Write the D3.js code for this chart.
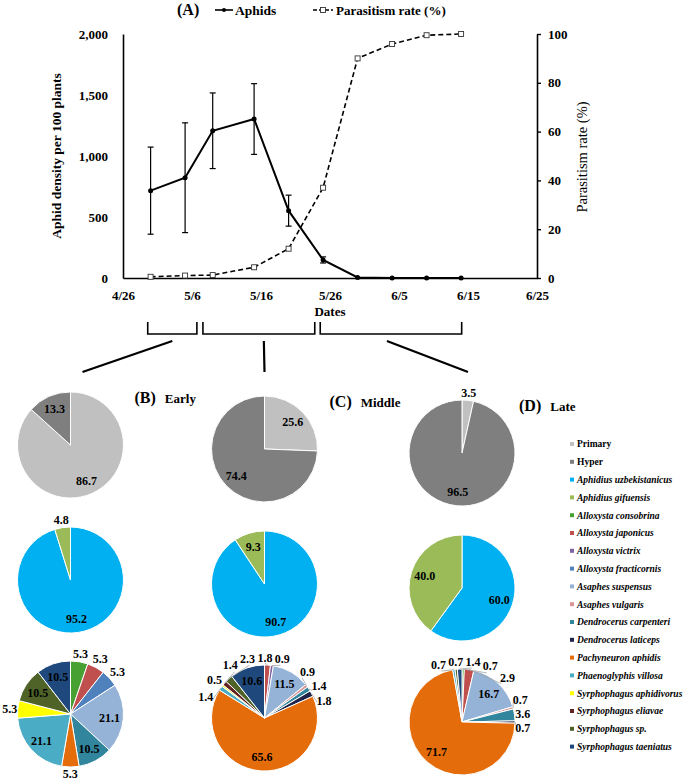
<!DOCTYPE html>
<html>
<head>
<meta charset="utf-8">
<script src="https://cdn.jsdelivr.net/npm/d3@7"></script>
<style>
  body { margin: 0; background: #fff; }
  svg text { font-family: "Liberation Serif", "Times New Roman", serif; font-weight: bold; fill: #000; }
</style>
</head>
<body>
<div id="chart-holder"></div>
<script>
// sampling dates and field counts (panel A)
var sampleDates = ["4/30", "5/5", "5/9", "5/15", "5/20", "5/25", "5/30", "6/4", "6/9", "6/14"];
var aphidDensity = [716, 822, 1207, 1303, 552, 148, 5, 0, 0, 0];
var aphidError = [357, 450, 310, 290, 127, 25, 0, 0, 0, 0];
var parasitismRate = [0.5, 1.0, 1.2, 4.4, 12.0, 37.0, 90.0, 95.9, 99.5, 100];

var dateTicks = ["4/26", "5/6", "5/16", "5/26", "6/5", "6/15", "6/25"];
var densityTicks = [0, 500, 1000, 1500, 2000];
var rateTicks = [0, 20, 40, 60, 80, 100];

// the three periods: start / end date ("m/d h" = plus h hours)
var periodLetters = ["(B)", "(C)", "(D)"];
var periodNames = ["Early", "Middle", "Late"];
var periodStart = ["4/29 14", "5/7 14", "5/24 14"];
var periodEnd = ["5/6 17", "5/23 19", "6/14 2"];

// pie row 1: primary vs hyper parasitoids (%)
var groupNames = ["Primary", "Hyper"];
var groupEarly = [86.7, 13.3];
var groupMiddle = [25.6, 74.4];
var groupLate = [3.5, 96.5];

// pie row 2: primary parasitoid species (%)
var primaryNames = ["Aphidius uzbekistanicus", "Aphidius gifuensis"];
var primaryEarly = [95.2, 4.8];
var primaryMiddle = [90.7, 9.3];
var primaryLate = [60.0, 40.0];

// pie row 3: hyperparasitoid species (%)
var hyperNames = ["Alloxysta consobrina", "Alloxysta japonicus", "Alloxysta victrix",
  "Alloxysta fracticornis", "Asaphes suspensus", "Asaphes vulgaris", "Dendrocerus carpenteri",
  "Dendrocerus laticeps", "Pachyneuron aphidis", "Phaenoglyphis villosa",
  "Syrphophagus aphidivorus", "Syrphophagus eliavae", "Syrphophagus sp.", "Syrphophagus taeniatus"];
var hyperEarly = [5.3, 5.3, 0, 5.3, 21.1, 0, 10.5, 0, 5.3, 21.1, 5.3, 0, 10.5, 10.5];
var hyperMiddle = [0, 1.8, 0.9, 0, 11.5, 0.9, 1.4, 1.8, 65.6, 1.4, 0.5, 1.4, 2.3, 10.6];
var hyperLate = [0.7, 2.9, 0, 0, 16.7, 0.7, 3.6, 0.7, 71.7, 0.7, 0, 0, 0.7, 1.4];

// colours
var groupColors = ["#c0c0c0", "#7f7f7f"];
var primaryColors = ["#00b0f0", "#9bbb59"];
var hyperColors = ["#46a032", "#c0504d", "#8064a2", "#4f81bd", "#95b3d7", "#d99694", "#31859c",
  "#1f2448", "#e46c0a", "#4bacc6", "#ffff00", "#632523", "#4f6228", "#1f497d"];

var parseDate = d3.timeParse("%m/%d");
function parseDay(s) {
  var p = s.split(" ");
  var d = parseDate(p[0]);
  return p[1] ? d3.timeHour.offset(d, +p[1]) : d;
}

var svg = d3.select("#chart-holder")
  .append("svg")
  .attr("width", 685)
  .attr("height", 780);

// ---------- panel A ----------
var x = d3.scaleTime()
  .domain([parseDate("4/26"), parseDate("6/25")])
  .range([123, 537]);
var yDensity = d3.scaleLinear().domain([0, 2000]).range([278, 34]);
var yRate = d3.scaleLinear().domain([0, 100]).range([278, 34]);

var points = sampleDates.map(function(s, i) {
  return { date: parseDate(s), density: aphidDensity[i], err: aphidError[i], rate: parasitismRate[i] };
});

function styleAxis(g) {
  g.select(".domain").attr("stroke", "#000").attr("stroke-width", 1.6);
  g.selectAll(".tick line").attr("stroke", "#000").attr("stroke-width", 1.4);
  g.selectAll("text")
    .attr("font-family", "Liberation Serif, serif")
    .attr("font-weight", "bold")
    .attr("font-size", 13)
    .attr("fill", "#000");
}

svg.append("g")
  .attr("transform", "translate(0,278)")
  .call(d3.axisBottom(x)
    .tickValues(dateTicks.map(parseDate))
    .tickFormat(d3.timeFormat("%-m/%-d"))
    .tickSize(0)
    .tickPadding(13))
  .call(styleAxis);

svg.append("g")
  .attr("transform", "translate(123,0)")
  .call(d3.axisLeft(yDensity)
    .tickValues(densityTicks)
    .tickFormat(d3.format(","))
    .tickSize(0)
    .tickPadding(15))
  .call(styleAxis);

svg.append("g")
  .attr("transform", "translate(537,0)")
  .call(d3.axisRight(yRate)
    .tickValues(rateTicks)
    .tickSizeInner(4)
    .tickSizeOuter(0)
    .tickPadding(7))
  .call(styleAxis);

// axis titles
svg.append("text")
  .attr("x", 330)
  .attr("y", 316)
  .attr("text-anchor", "middle")
  .attr("font-size", 13)
  .text("Dates");

svg.append("text")
  .attr("transform", "translate(61,156) rotate(-90)")
  .attr("text-anchor", "middle")
  .attr("font-size", 13.5)
  .text("Aphid density per 100 plants");

svg.append("text")
  .attr("transform", "translate(587,157) rotate(-90)")
  .attr("text-anchor", "middle")
  .attr("font-size", 14.5)
  .style("font-weight", "normal")
  .text("Parasitism rate (%)");

// parasitism rate line (dashed)
svg.append("path")
  .datum(points)
  .attr("fill", "none")
  .attr("stroke", "#000")
  .attr("stroke-width", 1.6)
  .attr("stroke-dasharray", "5,3")
  .attr("d", d3.line()
    .x(function(d) { return x(d.date); })
    .y(function(d) { return yRate(d.rate); }));

svg.selectAll("rect.rate-marker")
  .data(points)
  .enter()
  .append("rect")
  .attr("class", "rate-marker")
  .attr("x", function(d) { return x(d.date) - 2.5; })
  .attr("y", function(d) { return yRate(d.rate) - 2.5; })
  .attr("width", 5)
  .attr("height", 5)
  .attr("fill", "#fff")
  .attr("stroke", "#333")
  .attr("stroke-width", 0.9);

// aphid error bars
var withErr = points.filter(function(d) { return d.err > 0; });
svg.selectAll("line.err")
  .data(withErr)
  .enter()
  .append("line")
  .attr("class", "err")
  .attr("x1", function(d) { return x(d.date); })
  .attr("x2", function(d) { return x(d.date); })
  .attr("y1", function(d) { return yDensity(d.density - d.err); })
  .attr("y2", function(d) { return yDensity(d.density + d.err); })
  .attr("stroke", "#000")
  .attr("stroke-width", 1.2);
[-1, 1].forEach(function(side) {
  svg.selectAll("line.cap" + side)
    .data(withErr)
    .enter()
    .append("line")
    .attr("x1", function(d) { return x(d.date) - 3; })
    .attr("x2", function(d) { return x(d.date) + 3; })
    .attr("y1", function(d) { return yDensity(d.density + side * d.err); })
    .attr("y2", function(d) { return yDensity(d.density + side * d.err); })
    .attr("stroke", "#000")
    .attr("stroke-width", 1.2);
});

// aphid density line
svg.append("path")
  .datum(points)
  .attr("fill", "none")
  .attr("stroke", "#000")
  .attr("stroke-width", 2)
  .attr("d", d3.line()
    .x(function(d) { return x(d.date); })
    .y(function(d) { return yDensity(d.density); }));

svg.selectAll("circle.aphid")
  .data(points)
  .enter()
  .append("circle")
  .attr("cx", function(d) { return x(d.date); })
  .attr("cy", function(d) { return yDensity(d.density); })
  .attr("r", 2.5)
  .attr("fill", "#000");

// panel A title + legend
svg.append("text").attr("x", 177).attr("y", 15).attr("font-size", 16).text("(A)");
svg.append("line").attr("x1", 215).attr("x2", 233).attr("y1", 10).attr("y2", 10)
  .attr("stroke", "#000").attr("stroke-width", 1.6);
svg.append("circle").attr("cx", 224).attr("cy", 10).attr("r", 2).attr("fill", "#000");
svg.append("text").attr("x", 235).attr("y", 15).attr("font-size", 13.5).text("Aphids");
svg.append("line").attr("x1", 313).attr("x2", 333).attr("y1", 10).attr("y2", 10)
  .attr("stroke", "#000").attr("stroke-width", 1.4).attr("stroke-dasharray", "4,2");
svg.append("rect").attr("x", 320.5).attr("y", 7.5).attr("width", 5).attr("height", 5)
  .attr("fill", "#fff").attr("stroke", "#333").attr("stroke-width", 0.9);
svg.append("text").attr("x", 336).attr("y", 15).attr("font-size", 13).text("Parasitism rate (%)");

// ---------- period brackets and connectors ----------
var pieRadius = 53;
var pieX = [70.5, 264.5, 462];
var pieRowY = [445, 580, 714];
var pieColDy = [0, 4, 8];
var connectorStartDx = [0, 5, -4];
var connectorEndDx = [12, 0, 6];
var titleDx = [64, 65, 57];

periodNames.forEach(function(name, i) {
  var x0 = x(parseDay(periodStart[i]));
  var x1 = x(parseDay(periodEnd[i]));
  svg.append("path")
    .attr("d", "M" + x0 + ",322V334H" + x1 + "V322")
    .attr("fill", "none")
    .attr("stroke", "#000")
    .attr("stroke-width", 1.6);
  var mid = (x0 + x1) / 2;
  svg.append("line")
    .attr("x1", mid + connectorStartDx[i])
    .attr("y1", 341)
    .attr("x2", pieX[i] + connectorEndDx[i])
    .attr("y2", 372)
    .attr("stroke", "#000")
    .attr("stroke-width", 2.2);

  var t = svg.append("text")
    .attr("x", pieX[i] + titleDx[i])
    .attr("y", 403 + pieColDy[i]);
  t.append("tspan").attr("font-size", 16).text(periodLetters[i]);
  t.append("tspan").attr("dx", 9).attr("font-size", 13).text(name);
});

// ---------- pies ----------
var labelSize = 12;
var insideMin = 8;

function labelWidth(s) {
  var w = 0;
  for (var k = 0; k < s.length; k++) w += s[k] === "." ? 0.25 : 0.5;
  return w * labelSize;
}

function labelPos(l, R) {
  var s = Math.sin(l.angle), c = Math.cos(l.angle);
  var ext = Math.abs(s) * l.w / 2 + Math.abs(c) * l.h / 2;
  return [(R + ext) * s, -(R + ext) * c];
}

function overlaps(a, b, R) {
  var pa = labelPos(a, R), pb = labelPos(b, R);
  return Math.abs(pa[0] - pb[0]) < (a.w + b.w) / 2 + 2 && Math.abs(pa[1] - pb[1]) < (a.h + b.h) / 2;
}

// spread the outside labels round the pie so that they don't collide
function layoutLabels(labels, R) {
  labels.sort(function(a, b) { return a.mid - b.mid; });
  labels.forEach(function(l) { l.angle = l.mid; });
  function spread() {
    for (var i = 1; i < labels.length; i++) {
      var guard = 0;
      while (overlaps(labels[i - 1], labels[i], R) && guard++ < 400) labels[i].angle += 0.01;
    }
  }
  spread();
  var i = 0;
  while (i < labels.length) {
    var j = i + 1;
    while (j < labels.length && labels[j].angle > labels[j].mid + 1e-6) j++;
    var run = labels.slice(i, j);
    var shift = d3.mean(run, function(l) { return l.mid - l.angle; });
    run.forEach(function(l) { l.angle += shift; });
    i = j;
  }
  spread();
}

function drawPie(cx, cy, names, values, colors) {
  var items = names.map(function(n, i) {
    return { name: n, value: values[i], color: colors[i] };
  }).filter(function(d) { return d.value > 0; });

  var arcs = d3.pie().sort(null).value(function(d) { return d.value; })(items);
  var arc = d3.arc().innerRadius(0).outerRadius(pieRadius);
  var g = svg.append("g").attr("transform", "translate(" + cx + "," + cy + ")");

  g.selectAll("path")
    .data(arcs)
    .enter()
    .append("path")
    .attr("d", arc)
    .attr("fill", function(d) { return d.data.color; })
    .attr("stroke", "#fff")
    .attr("stroke-width", 1);

  // labels inside the bigger slices
  var inside = arcs.filter(function(d) { return d.data.value >= insideMin; });
  g.selectAll("text.inside")
    .data(inside)
    .enter()
    .append("text")
    .attr("class", "inside")
    .attr("x", function(d) { return Math.sin((d.startAngle + d.endAngle) / 2) * pieRadius * 0.74; })
    .attr("y", function(d) { return -Math.cos((d.startAngle + d.endAngle) / 2) * pieRadius * 0.74; })
    .attr("dy", "0.35em")
    .attr("text-anchor", "middle")
    .attr("font-size", labelSize)
    .text(function(d) { return d.data.value.toFixed(1); });

  // small slices get their label outside, with a leader line
  var R = pieRadius;
  var outside = arcs.filter(function(d) { return d.data.value < insideMin; }).map(function(d) {
    var mid = (d.startAngle + d.endAngle) / 2;
    if (mid > Math.PI) mid -= 2 * Math.PI;
    var txt = d.data.value.toFixed(1);
    return { mid: mid, text: txt, w: labelWidth(txt), h: 14 };
  });
  layoutLabels(outside, R);

  outside.forEach(function(l) {
    var p = labelPos(l, R);
    if (Math.abs(l.angle - l.mid) > 0.05) {
      g.append("line")
        .attr("x1", Math.sin(l.mid) * pieRadius)
        .attr("y1", -Math.cos(l.mid) * pieRadius)
        .attr("x2", Math.sin(l.angle) * (R + 2))
        .attr("y2", -Math.cos(l.angle) * (R + 2))
        .attr("stroke", "#a6a6a6")
        .attr("stroke-width", 0.8);
    }
    g.append("text")
      .attr("x", p[0])
      .attr("y", p[1])
      .attr("dy", "0.35em")
      .attr("text-anchor", "middle")
      .attr("font-size", labelSize)
      .text(l.text);
  });
}

var groupSets = [groupEarly, groupMiddle, groupLate];
var primarySets = [primaryEarly, primaryMiddle, primaryLate];
var hyperSets = [hyperEarly, hyperMiddle, hyperLate];
periodNames.forEach(function(name, i) {
  drawPie(pieX[i], pieRowY[0] + pieColDy[i], groupNames, groupSets[i], groupColors);
  drawPie(pieX[i], pieRowY[1] + pieColDy[i], primaryNames, primarySets[i], primaryColors);
  drawPie(pieX[i], pieRowY[2] + pieColDy[i], hyperNames, hyperSets[i], hyperColors);
});

// ---------- legend ----------
var legendNames = groupNames.concat(primaryNames, hyperNames);
var legendColors = groupColors.concat(primaryColors, hyperColors);
var legend = svg.selectAll("g.legend-item")
  .data(legendNames)
  .enter()
  .append("g")
  .attr("class", "legend-item")
  .attr("transform", function(d, i) { return "translate(572," + (444 + i * 17.8) + ")"; });

legend.append("rect")
  .attr("x", -2)
  .attr("y", -2)
  .attr("width", 4)
  .attr("height", 4)
  .attr("fill", function(d, i) { return legendColors[i]; });

legend.append("text")
  .attr("x", 5)
  .attr("dy", "0.35em")
  .attr("font-size", 9.5)
  .style("font-style", function(d, i) { return i >= 2 ? "italic" : "normal"; })
  .text(function(d) { return d; });
</script>
</body>
</html>
